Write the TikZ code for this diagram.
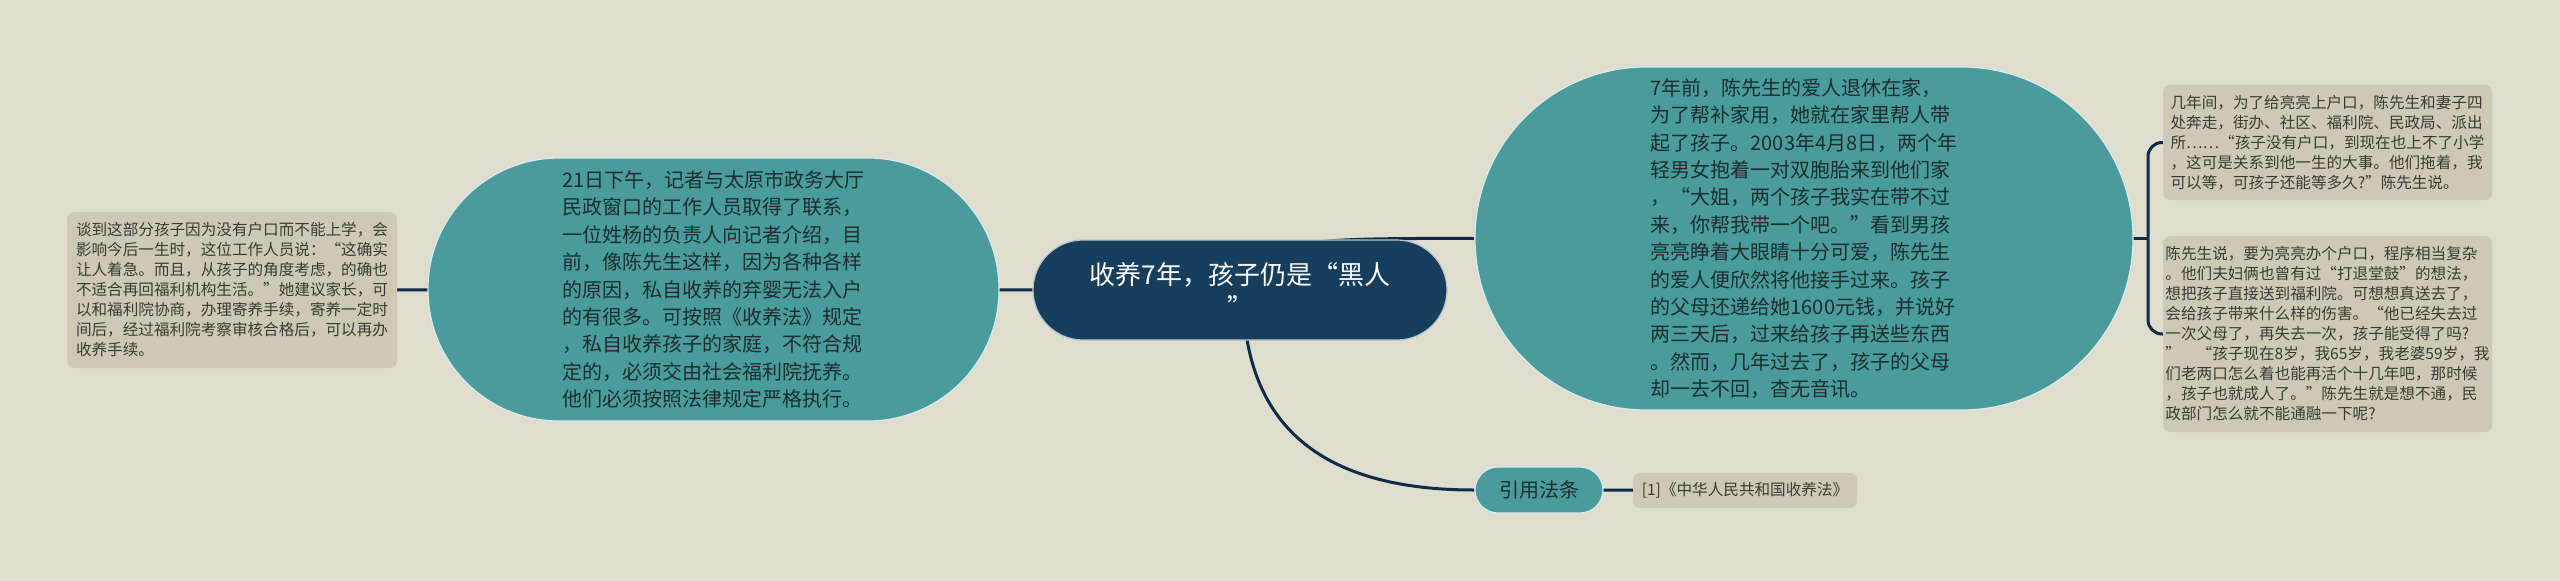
\documentclass[tikz,border=0pt]{standalone}
\usepackage{fontspec}
\newfontfamily\cjk{Noto Sans CJK SC}
\definecolor{bgc}{HTML}{DEDDCE}
\definecolor{tealc}{HTML}{4A9B9B}
\definecolor{rootc}{HTML}{183E5E}
\definecolor{grayc}{HTML}{CCCAB4}
\definecolor{linec}{HTML}{0F2B47}
\definecolor{darktxt}{HTML}{1C2E2E}
\definecolor{graytxt}{HTML}{3B3B36}
\pgfdeclarelayer{bg}
\pgfsetlayers{bg,main}
\begin{document}
\begin{tikzpicture}[x=1pt,y=-1pt,
  pill/.style={fill=tealc, draw=white!80!tealc, line width=1.2pt, inner sep=0pt,
    align=left, text=darktxt, font=\cjk\fontsize{20}{27.4}\selectfont},
  rootnode/.style={fill=rootc, draw=white!70!rootc, line width=1.2pt, inner sep=0pt,
    align=center, text=white, font=\cjk\fontsize{26}{33}\selectfont,
    minimum width=414, minimum height=100, rounded corners=50},
  graybox/.style={fill=grayc, inner sep=0pt, rounded corners=7, align=left,
    text=graytxt, font=\cjk\fontsize{15.6}{20}\selectfont},
  conn/.style={draw=linec, line width=3pt},
]
\useasboundingbox (0,0) rectangle (2560,581);

\node[rootnode] (root) at (1240,290) {收养7年，孩子仍是“黑人\\”};

\node[pill, minimum width=571, minimum height=263, rounded corners=131] (left) at (713.5,289.5)
{21日下午，记者与太原市政务大厅\\
民政窗口的工作人员取得了联系，\\
一位姓杨的负责人向记者介绍，目\\
前，像陈先生这样，因为各种各样\\
的原因，私自收养的弃婴无法入户\\
的有很多。可按照《收养法》规定\\
，私自收养孩子的家庭，不符合规\\
定的，必须交由社会福利院抚养。\\
他们必须按照法律规定严格执行。};

\node[graybox, minimum width=330, minimum height=156] (lbox) at (232,290)
{谈到这部分孩子因为没有户口而不能上学，会\\
影响今后一生时，这位工作人员说：“这确实\\
让人着急。而且，从孩子的角度考虑，的确也\\
不适合再回福利机构生活。”她建议家长，可\\
以和福利院协商，办理寄养手续，寄养一定时\\
间后，经过福利院考察审核合格后，可以再办\\
收养手续。};

\node[pill, minimum width=658, minimum height=343, rounded corners=171] (right) at (1804,238.5)
{7年前，陈先生的爱人退休在家，\\
为了帮补家用，她就在家里帮人带\\
起了孩子。2003年4月8日，两个年\\
轻男女抱着一对双胞胎来到他们家\\
，“大姐，两个孩子我实在带不过\\
来，你帮我带一个吧。”看到男孩\\
亮亮睁着大眼睛十分可爱，陈先生\\
的爱人便欣然将他接手过来。孩子\\
的父母还递给她1600元钱，并说好\\
两三天后，过来给孩子再送些东西\\
。然而，几年过去了，孩子的父母\\
却一去不回，杳无音讯。};

\node[graybox, minimum width=329, minimum height=115] (rbox1) at (2327.5,142.5)
{几年间，为了给亮亮上户口，陈先生和妻子四\\
处奔走，街办、社区、福利院、民政局、派出\\
所……“孩子没有户口，到现在也上不了小学\\
，这可是关系到他一生的大事。他们拖着，我\\
可以等，可孩子还能等多久?”陈先生说。};

\node[graybox, minimum width=329, minimum height=196] (rbox2) at (2327.5,334)
{陈先生说，要为亮亮办个户口，程序相当复杂\\
。他们夫妇俩也曾有过“打退堂鼓”的想法，\\
想把孩子直接送到福利院。可想想真送去了，\\
会给孩子带来什么样的伤害。“他已经失去过\\
一次父母了，再失去一次，孩子能受得了吗?\\
”\quad“孩子现在8岁，我65岁，我老婆59岁，我\\
们老两口怎么着也能再活个十几年吧，那时候\\
，孩子也就成人了。”陈先生就是想不通，民\\
政部门怎么就不能通融一下呢?};

\node[pill, align=center, minimum width=128, minimum height=46, rounded corners=23] (law) at (1539,490) {引用法条};

\node[graybox, minimum width=224, minimum height=35] (lawbox) at (1745,490.5)
{[1]《中华人民共和国收养法》};

\coordinate (fork) at (2148,238.5);

\begin{pgfonlayer}{bg}
\fill[bgc] (0,0) rectangle (2560,581);
\draw[conn] (root.center) -- (left.center);
\draw[conn] (left.center) -- (lbox.center);
\draw[conn] (root.center) .. controls (1255,240) and (1290,238) .. (right.west);
\draw[conn] ([xshift=3pt]root.center) .. controls (1243,425) and (1320,490) .. (law.west);
\draw[conn] (law.center) -- (lawbox.center);
\draw[conn] (right.center) -- (fork);
\draw[conn, rounded corners=14] (fork) |- (rbox1.west);
\draw[conn, rounded corners=14] (fork) |- (rbox2.west);
\end{pgfonlayer}
\end{tikzpicture}
\end{document}
